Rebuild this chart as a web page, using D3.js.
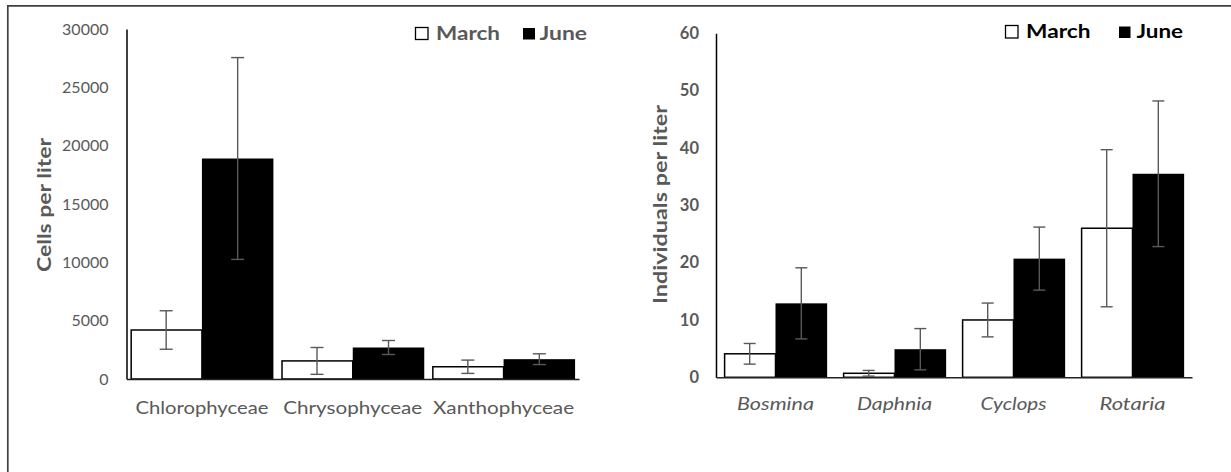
<!DOCTYPE html>
<html><head><meta charset="utf-8">
<script src="https://cdn.jsdelivr.net/npm/d3@7"></script>
<style>body{margin:0;background:#fff}svg{display:block}</style>
</head><body><svg id="c" width="1231" height="472"></svg>
<script>
// ---------- data ----------
const seriesNames = ["March", "June"];
const algaeCategories = ["Chlorophyceae", "Chrysophyceae", "Xanthophyceae"];
const algaeMarch = [4200, 1550, 1050];
const algaeMarchErr = [1650, 1150, 570];
const algaeJune = [18900, 2700, 1700];
const algaeJuneErr = [8650, 600, 460];
const algaeTicks = [0, 5000, 10000, 15000, 20000, 25000, 30000];

const zooCategories = ["Bosmina", "Daphnia", "Cyclops", "Rotaria"];
const zooMarch = [4.1, 0.7, 10.0, 26.0];
const zooMarchErr = [1.8, 0.5, 2.95, 13.7];
const zooJune = [12.9, 4.9, 20.7, 35.5];
const zooJuneErr = [6.2, 3.6, 5.5, 12.7];
const zooTicks = [0, 10, 20, 30, 40, 50, 60];

// ---------- drawing ----------
const svg = d3.select("#c");
const FONT = "Lato, 'Open Sans', sans-serif";
const GRAY = "#595959";

// outer frame (top and left edges)
svg.append("path").attr("d", "M7.8,472 V5.8 H1231")
  .attr("fill", "none").attr("stroke", "#404040").attr("stroke-width", 1.7);

function panel(cfg) {
  const g = svg.append("g");
  const y = d3.scaleLinear().domain([0, cfg.ticks[cfg.ticks.length - 1]]).range([cfg.y0, cfg.y1]);
  const x = d3.scaleBand().domain(cfg.categories).range([cfg.x0, cfg.x1])
    .paddingInner(cfg.pad).paddingOuter(cfg.pad / 2);
  const xs = d3.scaleBand().domain(seriesNames).range([0, x.bandwidth()]);

  const rows = cfg.categories.map((c, i) => ({
    c,
    vals: [
      { s: "March", v: cfg.march[i], e: cfg.marchErr[i] },
      { s: "June", v: cfg.june[i], e: cfg.juneErr[i] }
    ]
  }));

  const grp = g.selectAll("g.cat").data(rows).join("g")
    .attr("transform", d => `translate(${x(d.c)},0)`);

  grp.selectAll("rect").data(d => d.vals).join("rect")
    .attr("x", d => xs(d.s) + (d.s === "March" ? 0.75 : 0))
    .attr("width", d => xs.bandwidth() - (d.s === "March" ? 0.75 : 0))
    .attr("y", d => y(d.v))
    .attr("height", d => y(0) - y(d.v))
    .attr("fill", d => d.s === "March" ? "#fff" : "#000")
    .attr("stroke", "#000").attr("stroke-width", d => d.s === "March" ? 1.5 : 0);

  // error bars
  const eb = grp.selectAll("g.err").data(d => d.vals).join("g")
    .attr("transform", d => `translate(${xs(d.s) + xs.bandwidth() / 2},0)`)
    .attr("stroke", GRAY).attr("stroke-width", 1.4);
  eb.append("line").attr("y1", d => y(d.v + d.e)).attr("y2", d => y(Math.max(0, d.v - d.e)));
  eb.append("line").attr("x1", -cfg.cap / 2).attr("x2", cfg.cap / 2)
    .attr("y1", d => y(d.v + d.e)).attr("y2", d => y(d.v + d.e));
  eb.append("line").attr("x1", -cfg.cap / 2).attr("x2", cfg.cap / 2)
    .attr("y1", d => y(Math.max(0, d.v - d.e))).attr("y2", d => y(Math.max(0, d.v - d.e)));

  // y axis
  const ya = g.append("g").attr("transform", `translate(${cfg.x0},0)`)
    .call(d3.axisLeft(y).tickValues(cfg.ticks).tickSize(0).tickPadding(cfg.tickPad).tickFormat(d3.format("d")));
  ya.select(".domain").attr("stroke", "#000").attr("stroke-width", 1.5);
  ya.selectAll("text").attr("fill", GRAY).attr("font-family", FONT)
    .attr("font-size", cfg.tickSize).attr("font-weight", cfg.tickWeight);

  // x axis baseline + labels
  const xa = g.append("g").attr("transform", `translate(0,${cfg.y0})`)
    .call(d3.axisBottom(x).tickSize(0).tickSizeOuter(0));
  xa.select(".domain").attr("stroke", "#222").attr("stroke-width", 1.5);
  xa.selectAll("text").attr("fill", GRAY).attr("font-family", FONT)
    .attr("font-size", 16.5).attr("font-style", cfg.italic ? "italic" : "normal")
    .attr("y", cfg.labelBase - cfg.y0).attr("dy", 0)
    .attr("textLength", (d, i) => cfg.labelLen[i]).attr("lengthAdjust", "spacingAndGlyphs");

  // y title
  g.append("text").attr("transform", `translate(${cfg.titleX},${cfg.titleY}) rotate(-90)`)
    .attr("text-anchor", "middle").attr("dominant-baseline", "central")
    .attr("font-family", FONT).attr("font-weight", "bold").attr("font-size", 18)
    .attr("fill", GRAY).attr("textLength", cfg.titleLen).attr("lengthAdjust", "spacingAndGlyphs")
    .text(cfg.title);

  // legend
  const lg = g.append("g");
  cfg.legend.forEach((L, i) => {
    lg.append("rect").attr("x", L.bx).attr("y", L.by).attr("width", L.bw).attr("height", L.bh)
      .attr("fill", i === 0 ? "#fff" : "#000").attr("stroke", "#000").attr("stroke-width", i === 0 ? 1.3 : 0);
    lg.append("text").attr("x", L.tx).attr("y", cfg.legendBase)
      .attr("font-family", FONT).attr("font-weight", "bold").attr("font-size", 18.5)
      .attr("fill", cfg.legendColor).attr("textLength", L.tl).attr("lengthAdjust", "spacingAndGlyphs")
      .text(seriesNames[i]);
  });
}

panel({
  categories: algaeCategories, march: algaeMarch, marchErr: algaeMarchErr,
  june: algaeJune, juneErr: algaeJuneErr, ticks: algaeTicks,
  x0: 126.5, x1: 579, y0: 379, y1: 29, pad: 0.052, cap: 13,
  tickPad: 18, tickSize: 16, tickWeight: "normal", italic: false,
  labelBase: 414, labelLen: [133, 139, 141],
  title: "Cells per liter", titleX: 43.5, titleY: 205, titleLen: 134,
  legendBase: 39.5, legendColor: GRAY,
  legend: [
    { bx: 415.5, by: 27.5, bw: 12.5, bh: 12, tx: 436, tl: 64 },
    { bx: 523, by: 28, bw: 12, bh: 11.5, tx: 539.5, tl: 47.5 }
  ]
});

panel({
  categories: zooCategories, march: zooMarch, marchErr: zooMarchErr,
  june: zooJune, juneErr: zooJuneErr, ticks: zooTicks,
  x0: 716, x1: 1192, y0: 377.3, y1: 33.3, pad: 0.132, cap: 12,
  tickPad: 17, tickSize: 16.5, tickWeight: "bold", italic: true,
  labelBase: 410, labelLen: [77, 75, 66, 66],
  title: "Individuals per liter", titleX: 659.5, titleY: 204.5, titleLen: 199,
  legendBase: 37.5, legendColor: "#000",
  legend: [
    { bx: 1005.5, by: 25.5, bw: 12.5, bh: 12.5, tx: 1026, tl: 64.5 },
    { bx: 1119, by: 26.5, bw: 11.5, bh: 11.5, tx: 1136.5, tl: 46.5 }
  ]
});
</script>
</body></html>
